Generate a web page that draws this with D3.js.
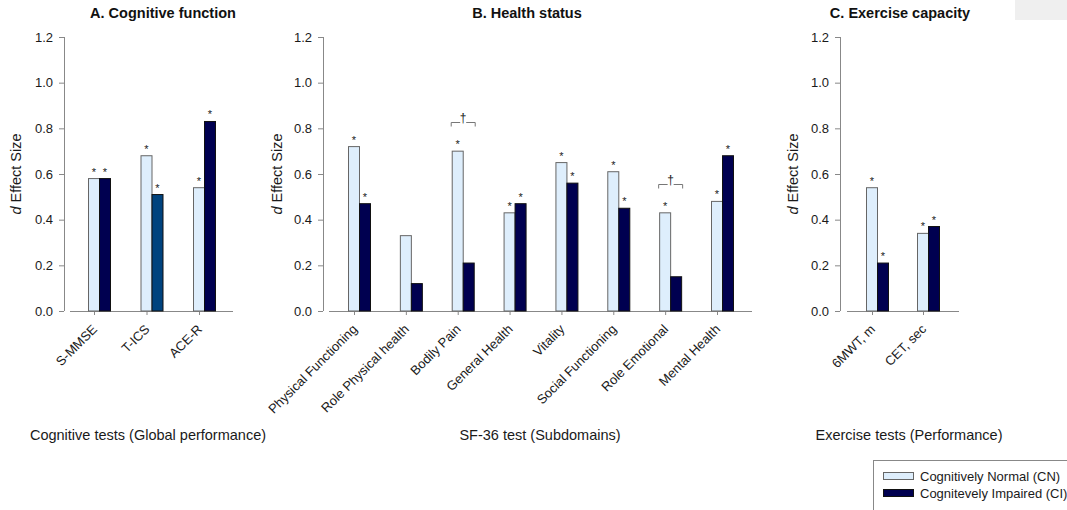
<!DOCTYPE html>
<html>
<head>
<meta charset="utf-8">
<script src="https://cdn.jsdelivr.net/npm/d3@7"></script>
<style>
  body { margin: 0; background: #fff; }
  svg { font-family: "Liberation Sans", Arial, sans-serif; }
</style>
</head>
<body>
<div id="chart"></div>
<script>
// ---- data ----
var catsA = ["S-MMSE", "T-ICS", "ACE-R"];
var cnA = [0.58, 0.68, 0.54];
var ciA = [0.58, 0.51, 0.83];
var starCnA = [1, 1, 1];
var starCiA = [1, 1, 1];
var daggerA = [0, 0, 0];

var catsB = ["Physical Functioning", "Role Physical health", "Bodily Pain", "General Health",
             "Vitality", "Social Functioning", "Role Emotional", "Mental Health"];
var cnB = [0.72, 0.33, 0.70, 0.43, 0.65, 0.61, 0.43, 0.48];
var ciB = [0.47, 0.12, 0.21, 0.47, 0.56, 0.45, 0.15, 0.68];
var starCnB = [1, 0, 1, 1, 1, 1, 1, 1];
var starCiB = [1, 0, 0, 1, 1, 1, 0, 1];
var daggerB = [0, 0, 1, 0, 0, 0, 1, 0];

var catsC = ["6MWT, m", "CET, sec"];
var cnC = [0.54, 0.34];
var ciC = [0.21, 0.37];
var starCnC = [1, 1];
var starCiC = [1, 1];
var daggerC = [0, 0];

var yTicks = [0.0, 0.2, 0.4, 0.6, 0.8, 1.0, 1.2];
var legendLabels = ["Cognitively Normal (CN)", "Cognitevely Impaired (CI)"];

// ---- styling ----
var cnFill = "#deeefc", cnStroke = "#666";
var ciFill = "#000050", ciStroke = "#111";
var ciOverride = { "T-ICS": "#00437e" };   // one bar is drawn in a lighter blue
var axisColor = "#888";
var textColor = "#1a1a1a";

var w = 1067, h = 510;
var svg = d3.select("#chart").append("svg")
    .attr("width", w)
    .attr("height", h);

var yScale = d3.scaleLinear().domain([0, 1.2]).range([311, 37]);

// panels: layout + data
var panels = [
  { title: "A. Cognitive function", titleX: 163, axisX: 64, pts: [94, 199], line: [70, 233], ylabX: 16,
    foot: "Cognitive tests (Global performance)", footX: 148,
    cats: catsA, cn: cnA, ci: ciA, sCn: starCnA, sCi: starCiA, dag: daggerA },
  { title: "B. Health status", titleX: 527, axisX: 323, pts: [354, 717], line: [329, 752], ylabX: 277,
    foot: "SF-36 test (Subdomains)", footX: 540,
    cats: catsB, cn: cnB, ci: ciB, sCn: starCnB, sCi: starCiB, dag: daggerB },
  { title: "C. Exercise capacity", titleX: 900, axisX: 840, pts: [872, 923], line: [847, 959], ylabX: 793,
    foot: "Exercise tests (Performance)", footX: 909,
    cats: catsC, cn: cnC, ci: ciC, sCn: starCnC, sCi: starCiC, dag: daggerC }
];

var barW = 11;

panels.forEach(function(p) {
  var g = svg.append("g");
  var xScale = d3.scalePoint().domain(p.cats).range(p.pts);

  // title
  g.append("text")
    .attr("x", p.titleX).attr("y", 18)
    .attr("text-anchor", "middle")
    .style("font-size", "14.5px").style("font-weight", "bold").style("fill", "#111")
    .text(p.title);

  // y axis
  var yAxis = g.append("g")
    .attr("transform", "translate(" + p.axisX + ",0)")
    .call(d3.axisLeft(yScale).tickValues(yTicks).tickSize(5).tickPadding(6)
      .tickFormat(d3.format(".1f")));
  yAxis.select(".domain").attr("stroke", axisColor).attr("d", "M0.5,37V311");
  yAxis.selectAll(".tick line").attr("stroke", axisColor);
  yAxis.selectAll(".tick text").style("font-size", "13px").style("fill", textColor)
    .style("font-family", "Liberation Sans, Arial, sans-serif");

  // y label
  var yl = g.append("text")
    .attr("transform", "translate(" + p.ylabX + ",174) rotate(-90)")
    .attr("text-anchor", "middle")
    .attr("dy", "0.35em")
    .style("font-size", "14.5px").style("fill", textColor);
  yl.append("tspan").style("font-style", "italic").text("d");
  yl.append("tspan").text(" Effect Size");

  // x axis
  var xAxis = g.append("g")
    .attr("transform", "translate(0,311)")
    .call(d3.axisBottom(xScale).tickSize(4).tickFormat(""));
  xAxis.select(".domain").remove();
  xAxis.selectAll(".tick line").attr("stroke", axisColor);
  g.append("line")
    .attr("x1", p.line[0]).attr("x2", p.line[1])
    .attr("y1", 311.5).attr("y2", 311.5)
    .attr("stroke", axisColor);

  // rotated category labels
  g.selectAll(".xlab")
    .data(p.cats)
    .enter().append("text")
    .attr("class", "xlab")
    .attr("text-anchor", "end")
    .attr("transform", function(d) {
      return "translate(" + (xScale(d) + 4) + ",330) rotate(-45)";
    })
    .style("font-size", "13px").style("fill", textColor)
    .text(function(d) { return d; });

  // bars
  var rows = p.cats.map(function(c, i) {
    return { cat: c, cn: p.cn[i], ci: p.ci[i], sCn: p.sCn[i], sCi: p.sCi[i], dag: p.dag[i] };
  });

  g.selectAll(".cn")
    .data(rows)
    .enter().append("rect")
    .attr("x", function(d) { return xScale(d.cat) - barW / 2; })
    .attr("y", function(d) { return yScale(d.cn); })
    .attr("width", barW)
    .attr("height", function(d) { return yScale(0) - yScale(d.cn); })
    .attr("fill", cnFill).attr("stroke", cnStroke).attr("stroke-width", 1);

  g.selectAll(".ci")
    .data(rows)
    .enter().append("rect")
    .attr("x", function(d) { return xScale(d.cat) + barW / 2; })
    .attr("y", function(d) { return yScale(d.ci); })
    .attr("width", barW)
    .attr("height", function(d) { return yScale(0) - yScale(d.ci); })
    .attr("fill", function(d) { return ciOverride[d.cat] || ciFill; })
    .attr("stroke", ciStroke).attr("stroke-width", 1);

  // significance stars and dagger brackets
  rows.forEach(function(d) {
    if (d.sCn) {
      g.append("text").attr("x", xScale(d.cat)).attr("y", yScale(d.cn) - 3)
        .attr("text-anchor", "middle").style("font-size", "11px").style("fill", textColor).text("*");
    }
    if (d.sCi) {
      g.append("text").attr("x", xScale(d.cat) + barW).attr("y", yScale(d.ci) - 3)
        .attr("text-anchor", "middle").style("font-size", "11px").style("fill", textColor).text("*");
    }
    if (d.dag) {
      var by = Math.round(yScale(Math.max(d.cn, d.ci)) - 29) + 0.5;
      var x1 = xScale(d.cat) - barW / 2 - 1, x2 = xScale(d.cat) + barW * 1.5 + 1;
      var xm = (x1 + x2) / 2;
      g.append("path")
        .attr("d", "M" + x1 + "," + (by + 4) + "V" + by + "H" + (xm - 3) +
                   "M" + (xm + 3) + "," + by + "H" + x2 + "V" + (by + 4))
        .attr("fill", "none").attr("stroke", "#777");
      g.append("text").attr("x", xm).attr("y", by - 1)
        .attr("text-anchor", "middle").style("font-size", "12px").style("fill", textColor).text("\u2020");
    }
  });

  // footer label
  g.append("text")
    .attr("x", p.footX).attr("y", 440)
    .attr("text-anchor", "middle")
    .style("font-size", "14.5px").style("fill", textColor)
    .text(p.foot);
});

// small grey box at the top right corner
svg.append("rect")
  .attr("x", 1015).attr("y", 0).attr("width", 52).attr("height", 20)
  .attr("fill", "#efefef");

// legend
var lg = svg.append("g");
lg.append("rect")
  .attr("x", 873.5).attr("y", 460.5).attr("width", 200).attr("height", 60)
  .attr("fill", "#fff").attr("stroke", "#888");
legendLabels.forEach(function(t, i) {
  lg.append("rect")
    .attr("x", 883.5).attr("y", 472.5 + i * 17).attr("width", 30).attr("height", 7)
    .attr("fill", i === 0 ? cnFill : ciFill)
    .attr("stroke", i === 0 ? cnStroke : ciStroke);
  lg.append("text")
    .attr("x", 920).attr("y", 481 + i * 17)
    .style("font-size", "13px").style("fill", textColor)
    .text(t);
});
</script>
</body>
</html>
